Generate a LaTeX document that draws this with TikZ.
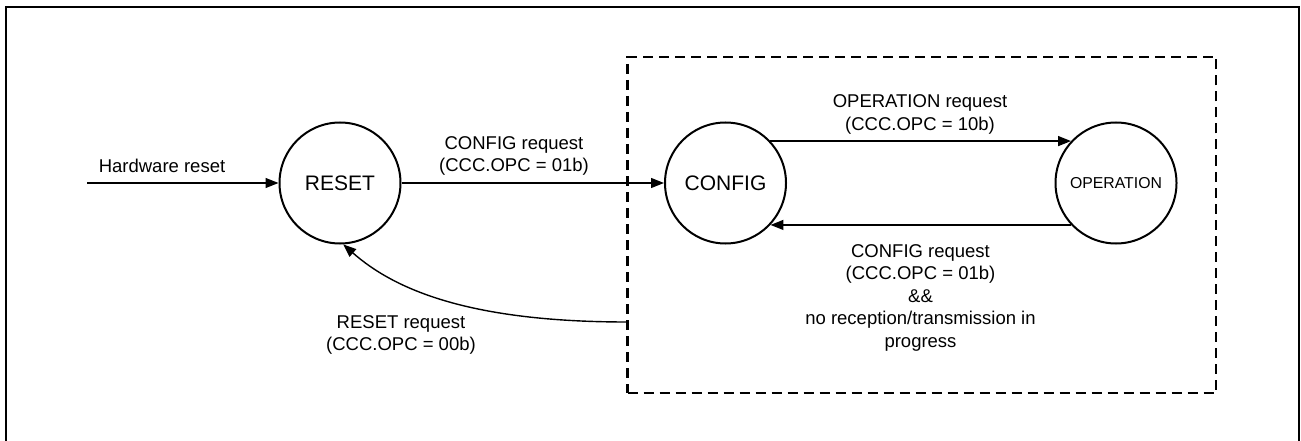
\documentclass[tikz,border=0pt]{standalone}
\usepackage{fontspec}
\setmainfont{Liberation Sans}
\usetikzlibrary{arrows.meta}
\begin{document}
\begin{tikzpicture}[x=1pt,y=-1pt,
  state/.style={circle,draw,line width=2pt,minimum size=121pt,inner sep=0pt,font=\fontsize{21}{25}\selectfont},
  lbl/.style={align=center,inner sep=0pt,font=\fontsize{18.5}{22.5}\selectfont},
  conn/.style={line width=1.4pt,-{Triangle[length=13pt,width=10pt]}},
  group/.style={draw,dash pattern=on 10pt off 6pt,line width=2.8pt,inner sep=0pt,minimum width=588.5pt,minimum height=336pt}
  ]
\useasboundingbox (0,0) rectangle (1301,441);
\draw[line width=2.6pt] (6,441) -- (6,7) -- (1299,7) -- (1299,441);
\node[group] (grp) at (921.75,225) {};
\node[state] (reset) at (340,183) {RESET};
\node[state] (config) at (725.5,183) {CONFIG};
\node[state,font=\fontsize{15.8}{19}\selectfont] (oper) at (1116,183) {OPERATION};
\coordinate (hw) at (87,183);
\coordinate (rq) at (627.5,322);
\draw[conn] (hw) -- (reset);
\draw[conn] (reset) -- (config);
\draw[conn] (config.43) -- (oper.137);
\draw[conn] (oper.-137) -- (config.-43);
\draw[conn] (rq) .. controls (470,322) and (395,290) .. (reset.-87);
\node[lbl] (lhw) at (162,166) {Hardware reset};
\node[lbl] (lcfg) at (514,156) {CONFIG request\\(CCC.OPC = 01b)};
\node[lbl] (lop) at (920,114.5) {OPERATION request\\(CCC.OPC = 10b)};
\node[lbl] (lback) at (920.5,297.5) {CONFIG request\\(CCC.OPC = 01b)\\\&\&\\no reception/transmission in\\progress};
\node[lbl] (lrs) at (401,335) {RESET request\\(CCC.OPC = 00b)};
\end{tikzpicture}
\end{document}
